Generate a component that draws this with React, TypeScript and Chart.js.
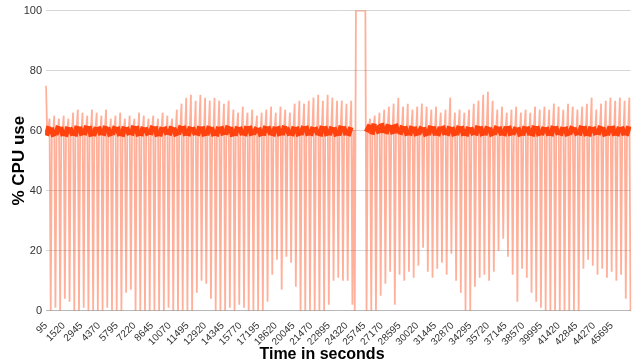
import React, { useEffect, useRef } from 'react';
import { Chart, registerables } from 'chart.js';

Chart.register(...registerables);

// Sample interval of the measurement (seconds) – x categories are 95, 190, 285, ...
const SAMPLE_STEP = 95;

// % CPU use (one value per 95 s sample)
const cpuUse: number[] = [
  75,
  59.2, 60.6, 64, 0, 60.1, 58.9, 65, 1, 59.5, 60.7, 64, 0, 60.3, 59.1, 65, 4,
  58.9, 60.4, 64, 3, 60.2, 59.3, 66, 0, 59.0, 60.7, 67, 0, 60.4, 59.2, 66, 1,
  59.4, 60.8, 65, 0, 60.6, 58.9, 67, 0, 59.1, 60.3, 66, 0, 60.5, 59.4, 65, 0,
  59.2, 60.7, 67, 1, 60.2, 59.0, 64, 0, 59.6, 60.6, 65, 0, 60.4, 59.1, 66, 0,
  58.9, 60.5, 64, 6, 60.3, 59.4, 65, 7, 59.3, 60.8, 64, 0, 60.6, 59.0, 66, 0,
  59.1, 60.4, 65, 0, 60.2, 59.3, 64, 0, 59.5, 60.7, 65, 0, 60.5, 58.9, 64, 0,
  59.0, 60.3, 66, 0, 60.4, 59.5, 65, 1, 59.3, 60.6, 64, 0, 60.1, 59.0, 67, 0,
  59.6, 60.8, 69, 0, 60.7, 59.2, 71, 0, 59.1, 60.5, 72, 0, 60.3, 59.4, 70, 6,
  59.2, 60.6, 72, 10, 60.5, 59.0, 71, 9, 59.4, 60.7, 70, 4, 60.2, 59.1, 71, 0,
  59.0, 60.4, 70, 0, 60.6, 59.3, 69, 0, 59.5, 60.8, 70, 1, 60.3, 58.9, 67, 0,
  59.2, 60.5, 66, 2, 60.4, 59.4, 68, 1, 59.1, 60.6, 66, 0, 60.7, 59.2, 67, 0,
  59.6, 60.3, 65, 0, 60.1, 59.0, 66, 0, 59.3, 60.7, 67, 3, 60.5, 59.5, 68, 12,
  59.0, 60.4, 66, 17, 60.6, 59.1, 68, 7, 59.4, 60.8, 67, 18, 60.2, 59.3, 66, 16,
  59.1, 60.5, 69, 8, 60.4, 59.0, 70, 0, 59.5, 60.6, 69, 0, 60.7, 59.2, 70, 0,
  59.2, 60.4, 71, 0, 60.3, 59.5, 72, 0, 59.0, 60.7, 70, 0, 60.6, 59.1, 72, 2,
  59.4, 60.5, 71, 10, 60.2, 59.0, 70, 11, 59.3, 60.8, 70, 10, 60.5, 59.4, 69, 10,
  59.1, 60.3, 70, 2,
  60.2, 0,
  100, 100, 100, 100, 100, 100, 100, 100, 100,
  0,
  60.4, 61.2, 64, 0, 59.6, 61.5, 65, 0, 60.8, 59.9, 66, 5, 61.6, 60.2, 67, 9,
  59.8, 61.3, 68, 13, 60.9, 59.7, 69, 2, 61.4, 60.1, 71, 12, 59.5, 60.8, 68, 10,
  60.6, 59.2, 69, 13, 59.3, 60.7, 67, 11, 60.4, 59.1, 68, 15, 59.6, 60.5, 69, 21,
  60.2, 59.0, 68, 13, 59.4, 60.8, 67, 11, 60.5, 59.3, 68, 14, 59.1, 60.4, 66, 16,
  60.7, 59.5, 67, 12, 59.2, 60.6, 71, 19, 60.3, 59.0, 66, 10, 59.5, 60.7, 67, 6,
  60.6, 59.2, 66, 0, 59.0, 60.4, 67, 0, 60.2, 59.4, 69, 8, 59.3, 60.8, 70, 11,
  60.5, 59.1, 72, 12, 59.4, 60.6, 73, 10, 60.1, 59.0, 70, 13, 59.6, 60.7, 67, 20,
  60.4, 59.3, 68, 24, 59.1, 60.5, 66, 18, 60.7, 59.2, 67, 12, 59.5, 60.3, 68, 3,
  60.2, 59.0, 66, 14, 59.3, 60.6, 67, 11, 60.5, 59.4, 66, 6, 59.0, 60.8, 68, 3,
  60.6, 59.1, 67, 1, 59.4, 60.4, 68, 0, 60.3, 59.2, 67, 0, 59.1, 60.7, 69, 0,
  60.5, 59.5, 68, 0, 59.2, 60.3, 67, 0, 60.4, 59.0, 69, 0, 59.6, 60.6, 68, 0,
  60.1, 59.3, 67, 0, 59.3, 60.8, 68, 14, 60.6, 59.1, 69, 17, 59.0, 60.5, 71, 15,
  60.4, 59.4, 67, 12, 59.5, 60.7, 69, 14, 60.2, 59.0, 70, 11, 59.4, 60.6, 71, 13,
  60.7, 59.2, 70, 10, 59.1, 60.4, 71, 12, 60.5, 59.3, 70, 4, 59.2, 60.6, 71, 0,
];

// x tick labels shown on the axis
const TICK_LABELS = [
  '95', '1520', '2945', '4370', '5795', '7220', '8645', '10070', '11495', '12920',
  '14345', '15770', '17195', '18620', '20045', '21470', '22895', '24320', '25745',
  '27170', '28595', '30020', '31445', '32870', '34295', '35720', '37145', '38570',
  '39995', '41420', '42845', '44270', '45695',
];

const Y_TICKS = [0, 20, 40, 60, 80, 100];

const timeLabels = cpuUse.map((_, i) => String(SAMPLE_STEP * (i + 1)));
const tickSet = new Set(TICK_LABELS);

const FONT = 'Liberation Sans';
const LINE = 'rgba(255,66,14,0.42)';
const BAND = '#ff420e';

const isBand = (ctx: any) => {
  const a = ctx.p0.parsed.y;
  const b = ctx.p1.parsed.y;
  return a >= 57 && a <= 62.5 && b >= 57 && b <= 62.5;
};

export default function App() {
  const ref = useRef<HTMLCanvasElement | null>(null);

  useEffect(() => {
    if (!ref.current) return;
    const chart = new Chart(ref.current, {
      type: 'line',
      data: {
        labels: timeLabels,
        datasets: [
          {
            data: cpuUse,
            borderColor: LINE,
            borderWidth: 1.8,
            pointRadius: 0,
            tension: 0,
            fill: false,
            segment: {
              borderColor: (ctx: any) => (isBand(ctx) ? BAND : LINE),
              borderWidth: (ctx: any) => (isBand(ctx) ? 5.5 : 1.8),
              borderCapStyle: (ctx: any) => (isBand(ctx) ? 'square' : 'butt'),
            },
          },
        ],
      },
      options: {
        animation: false,
        responsive: false,
        layout: { padding: { top: 5, right: 5, left: 9, bottom: 0 } },
        plugins: {
          legend: { display: false },
          tooltip: { enabled: false },
          title: {
            display: true,
            position: 'bottom',
            text: 'Time in seconds',
            color: '#000',
            font: { family: FONT, size: 16, weight: 'bold', lineHeight: 1.2 },
            padding: { top: 0, bottom: 0 },
          },
        },
        scales: {
          x: {
            type: 'category',
            grid: { display: false },
            border: { display: true, color: '#b8b8b8' },
            ticks: {
              autoSkip: false,
              maxRotation: 45,
              minRotation: 45,
              color: '#333',
              font: { family: FONT, size: 10 },
              padding: 1,
              callback: (_v: any, index: number) => {
                const l = timeLabels[index];
                return tickSet.has(l) ? l : '';
              },
            },
            afterFit: (s: any) => {
              s.height = 34;
            },
          },
          y: {
            min: 0,
            max: 100,
            afterBuildTicks: (axis: any) => {
              axis.ticks = Y_TICKS.map((v) => ({ value: v }));
            },
            grid: { color: '#d6d6d6', drawTicks: false },
            border: { display: false },
            ticks: {
              color: '#333',
              font: { family: FONT, size: 11 },
              padding: 4,
            },
            title: {
              display: true,
              text: '% CPU use',
              color: '#000',
              font: { family: FONT, size: 17, weight: 'bold' },
              padding: { top: 0, bottom: 0 },
            },
            afterFit: (s: any) => {
              s.width = 37;
            },
          },
        },
      },
    });
    return () => chart.destroy();
  }, []);

  return (
    <div style={{ position: 'fixed', left: 0, top: 0, width: 640, height: 364, background: '#fff' }}>
      <canvas ref={ref} width={640} height={364} />
    </div>
  );
}
